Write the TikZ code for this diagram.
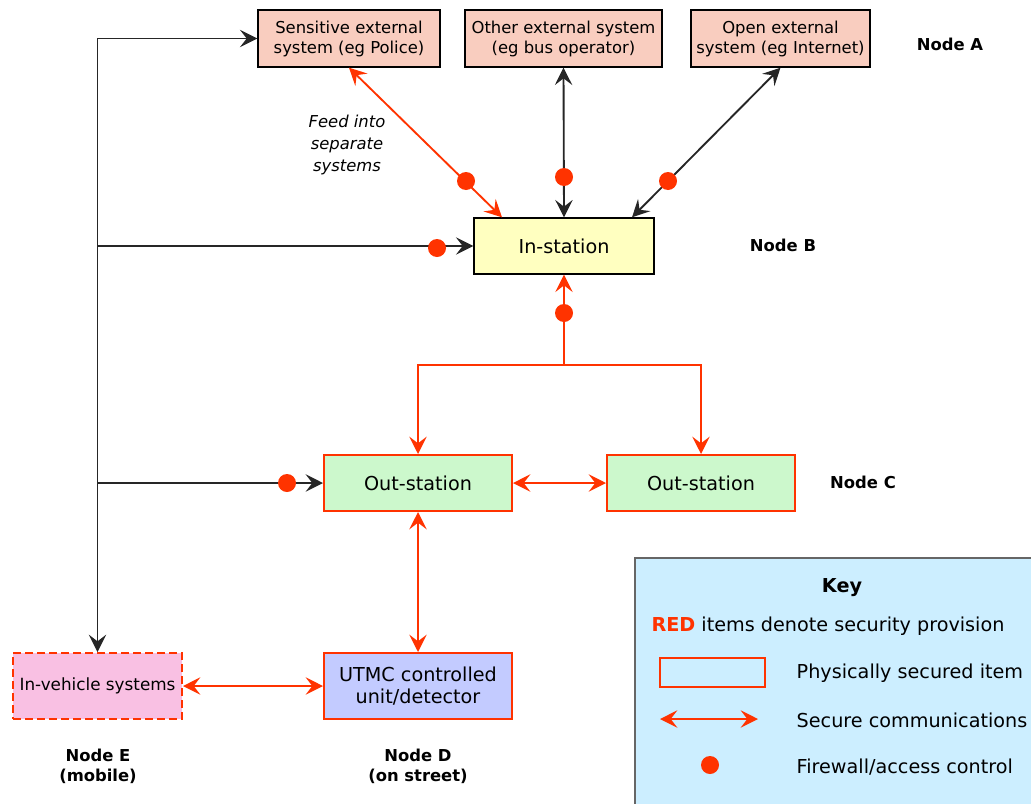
\documentclass[tikz,border=0pt]{standalone}
\usepackage{fontspec}
\setmainfont{DejaVu Sans}
\usetikzlibrary{arrows.meta}
\definecolor{secred}{HTML}{FF3300}
\definecolor{extfill}{HTML}{F9CDBF}
\definecolor{instfill}{HTML}{FFFFC0}
\definecolor{outfill}{HTML}{CCF8CC}
\definecolor{utmcfill}{HTML}{C3CBFF}
\definecolor{vehfill}{HTML}{F9C0E3}
\definecolor{keyfill}{HTML}{CCEEFF}
\tikzset{tip/.tip={Stealth[length=13pt,width=13pt,inset=5pt]}}
\begin{document}
\begin{tikzpicture}
[x=0.75pt,y=-0.75pt,%
  big/.style={font=\fontsize{14.4}{17}\selectfont},%
  small/.style={font=\fontsize{12.3}{15}\selectfont},%
  extbox/.style={small,draw=black,line width=1pt,fill=extfill,align=center,
    inner sep=0pt,minimum height=42.75pt},%
  mainbox/.style={big,line width=1.5pt,align=center,inner sep=0pt,
    minimum width=141pt,minimum height=42pt},%
  nodelabel/.style={small,font=\fontsize{12.3}{15}\selectfont\bfseries,align=center},%
  blk/.style={line width=1.4pt,black!85},%
  sec/.style={line width=1.4pt,secred},%
  fw/.style={circle,fill=secred,inner sep=0pt,minimum size=13.5pt}]
\useasboundingbox (0,0) rectangle (1031,803);

\node[extbox,minimum width=136.5pt] (sens) at (349,38.5)
  {Sensitive external\\system (eg Police)};
\node[extbox,minimum width=147.75pt] (other) at (563.5,38.5)
  {Other external system\\(eg bus operator)};
\node[extbox,minimum width=134.25pt] (open) at (780.5,38.5)
  {Open external\\system (eg Internet)};
\node[mainbox,draw=black,line width=1pt,fill=instfill,minimum width=135pt] (inst) at (564,246) {In-station};
\node[mainbox,draw=secred,fill=outfill] (out1) at (418,483) {Out-station};
\node[mainbox,draw=secred,fill=outfill] (out2) at (701,483) {Out-station};
\node[mainbox,draw=secred,fill=utmcfill,minimum height=49.5pt] (utmc) at (418,686)
  {UTMC controlled\\unit/detector};
\node[mainbox,font=\fontsize{12.6}{15}\selectfont,draw=secred,dashed,dash pattern=on 6pt off 3pt,fill=vehfill,
  minimum width=126.75pt,minimum height=49.5pt] (veh) at (97.5,686) {In-vehicle systems};

\node[nodelabel] (la) at (950,44) {Node A};
\node[nodelabel] (lb) at (783,245) {Node B};
\node[nodelabel] (lc) at (863,482) {Node C};
\node[nodelabel] (ld) at (418,766) {Node D\\(on street)};
\node[nodelabel] (le) at (98,766) {Node E\\(mobile)};
\node[small,font=\fontsize{12.3}{16.5}\selectfont\itshape,align=center] (feed) at (347,145)
  {Feed into\\separate\\systems};

\draw[blk,tip-tip] (veh.north) |- (sens.west);
\draw[blk,-tip] (veh.north |- inst.west) -- (inst.west);
\draw[blk,-tip] (veh.north |- out1.west) -- (out1.west);
\draw[sec,tip-tip] (sens.south) -- ([xshift=-46.5pt]inst.north);
\draw[blk,tip-tip] (other.south) -- (inst.north);
\draw[blk,tip-tip] (open.south) -- ([xshift=51pt]inst.north);
\coordinate (split) at (564,365);
\draw[sec,tip-] (inst.south) -- (split);
\draw[sec,-tip] (split) -| (out1.north);
\draw[sec,-tip] (split) -| (out2.north);
\draw[sec,tip-tip] (out1.east) -- (out2.west);
\draw[sec,tip-tip] (out1.south) -- (utmc.north);
\draw[sec,tip-tip] (veh.east) -- (utmc.west);

\node[fw] (f1) at (466,181) {};
\node[fw] (f2) at (564,177) {};
\node[fw] (f3) at (668,181) {};
\node[fw] (f4) at (437,248) {};
\node[fw] (f5) at (564,313) {};
\node[fw] (f6) at (287,483) {};

\filldraw[fill=keyfill,draw=black!60,line width=1pt] (635,558) rectangle (1040,810);
\node[big,font=\fontsize{14.4}{17}\selectfont\bfseries] (key) at (842,588) {Key};
\node[big] (red) at (828,626) {\textcolor{secred}{\bfseries RED} items denote security provision};
\node[draw=secred,line width=1.5pt,minimum width=78.75pt,minimum height=21.75pt,inner sep=0pt]
  (ksec) at (712.5,672.5) {};
\coordinate (ka) at (660,719);
\coordinate (kb) at (758,719);
\draw[sec,tip-tip] (ka) -- (kb);
\node[fw] (kfw) at (710,765) {};
\node[big,anchor=west] (t1) at (792,673) {Physically secured item};
\node[big,anchor=west] (t2) at (792,720) {Secure communications};
\node[big,anchor=west] (t3) at (792,767) {Firewall/access control};
\end{tikzpicture}
\end{document}
